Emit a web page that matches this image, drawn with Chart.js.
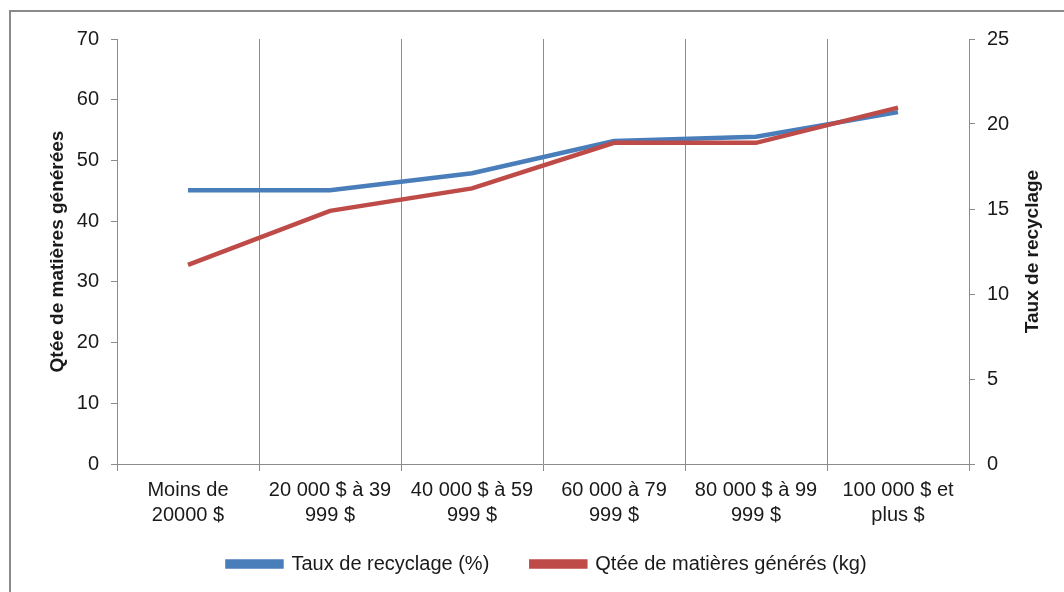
<!DOCTYPE html>
<html>
<head>
<meta charset="utf-8">
<script src="https://cdn.jsdelivr.net/npm/chart.js@4/dist/chart.umd.min.js"></script>
<style>
  html, body { margin: 0; padding: 0; background: #fff; overflow: hidden; }
  #wrap { position: relative; width: 1064px; height: 592px; }
  #frame {
    position: absolute; left: 9px; top: 10px; width: 1100px; height: 700px;
    border-left: 2px solid #8a8a8a; border-top: 2px solid #8a8a8a;
  }
  canvas { position: absolute; left: 0; top: 0; }
</style>
</head>
<body>
<div id="wrap">
  <div id="frame"></div>
  <canvas id="chart" width="1064" height="592"></canvas>
</div>
<script>
  const categories = [
    ["Moins de", "20000 $"],
    ["20 000 $ à 39", "999 $"],
    ["40 000 $ à 59", "999 $"],
    ["60 000 à 79", "999 $"],
    ["80 000 $ à 99", "999 $"],
    ["100 000 $ et", "plus $"],
  ];
  const tauxRecyclage = [16.1, 16.1, 17.1, 19.0, 19.25, 20.7];
  const qteMatieres = [32.8, 41.7, 45.4, 52.9, 52.9, 58.7];
  const leftTitle = "Qtée de matières générées";
  const rightTitle = "Taux de recyclage";

  const FONT = "'Liberation Sans', Arial, sans-serif";
  const TEXT = "#1a1a1a";
  const GRID = "#8c8c8c";

  // right axis title reads bottom-to-top like the left one
  const rightTitlePlugin = {
    id: "rightTitle",
    afterDraw(chart) {
      const { ctx, chartArea } = chart;
      ctx.save();
      ctx.translate(1033, (chartArea.top + chartArea.bottom) / 2);
      ctx.rotate(-Math.PI / 2);
      ctx.font = "bold 19px " + FONT;
      ctx.fillStyle = TEXT;
      ctx.textAlign = "center";
      ctx.textBaseline = "middle";
      ctx.fillText(rightTitle, 0, 0);
      ctx.restore();
    },
  };

  new Chart(document.getElementById("chart"), {
    type: "line",
    data: {
      labels: categories,
      datasets: [
        {
          label: "Taux de recyclage (%)",
          data: tauxRecyclage,
          yAxisID: "y1",
          borderColor: "#4a7ebb",
          backgroundColor: "#4a7ebb",
          borderWidth: 4.5,
          pointRadius: 0,
          tension: 0,
          order: 1,
        },
        {
          label: "Qtée de matières générés (kg)",
          data: qteMatieres,
          yAxisID: "y",
          borderColor: "#be4b48",
          backgroundColor: "#be4b48",
          borderWidth: 4.5,
          pointRadius: 0,
          tension: 0,
          order: 0,
        },
      ],
    },
    options: {
      responsive: false,
      animation: false,
      layout: { padding: { left: 30, right: 0, top: 39, bottom: 8 } },
      plugins: {
        tooltip: { enabled: false },
        legend: {
          position: "bottom",
          labels: {
            boxWidth: 54,
            boxHeight: 5,
            padding: 42,
            color: TEXT,
            font: { family: FONT, size: 20 },
            sort: (a, b) => a.datasetIndex - b.datasetIndex,
          },
        },
      },
      scales: {
        x: {
          offset: true,
          grid: {
            offset: true,
            color: GRID,
            tickLength: 7,
            lineWidth: 1,
          },
          border: { color: GRID },
          ticks: {
            color: TEXT,
            font: { family: FONT, size: 20, lineHeight: 1.25 },
            maxRotation: 0,
            autoSkip: false,
            padding: 7,
          },
          afterFit(scale) {
            scale.height = 48;
            // two-line labels run below the short box, don't clip them
            scale._computeLabelArea = () => undefined;
          },
        },
        y: {
          position: "left",
          min: 0,
          max: 70,
          ticks: {
            stepSize: 10,
            color: TEXT,
            font: { family: FONT, size: 20 },
            padding: 12,
          },
          grid: { drawOnChartArea: false, color: GRID, tickLength: 6 },
          border: { color: GRID },
          title: {
            display: true,
            text: leftTitle,
            color: TEXT,
            font: { family: FONT, size: 19, weight: "bold" },
            padding: { top: 16, bottom: 0 },
          },
          afterFit(scale) { scale.width = 87; },
        },
        y1: {
          position: "right",
          min: 0,
          max: 25,
          ticks: {
            stepSize: 5,
            color: TEXT,
            font: { family: FONT, size: 20 },
            padding: 12,
          },
          grid: { drawOnChartArea: false, color: GRID, tickLength: 6 },
          border: { color: GRID },
          afterFit(scale) { scale.width = 95; },
        },
      },
    },
    plugins: [rightTitlePlugin],
  });
</script>
</body>
</html>
